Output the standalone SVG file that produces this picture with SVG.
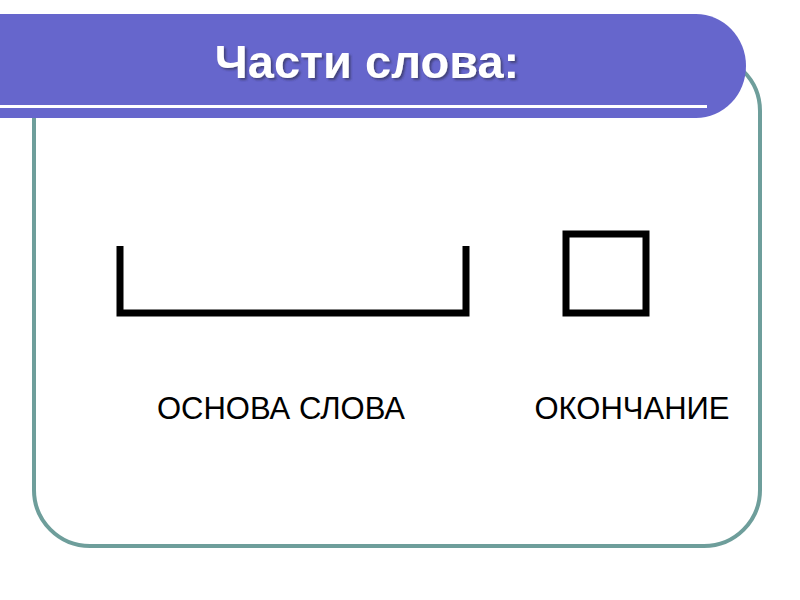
<svg xmlns="http://www.w3.org/2000/svg" width="800" height="600" viewBox="0 0 800 600">
  <defs>
    <filter id="tshadow" x="-10%" y="-20%" width="120%" height="150%">
      <feDropShadow dx="2" dy="2" stdDeviation="1" flood-color="#33335a" flood-opacity="0.7"/>
    </filter>
    <style>
      .frame { fill: #ffffff; stroke: #6e9e9b; stroke-width: 4; }
      .bar { fill: #6666cc; }
      .title { font-family: "Liberation Sans", Arial, sans-serif; font-weight: bold; font-size: 47px; fill: #ffffff; }
      .label { font-family: "Liberation Sans", Arial, sans-serif; font-size: 31px; fill: #000000; }
      .mark { fill: none; stroke: #000000; stroke-width: 7; }
    </style>
  </defs>
  <rect width="800" height="600" fill="#ffffff"/>
  <g id="frame">
    <rect class="frame" x="34" y="55" width="726" height="491" rx="56" ry="56"/>
  </g>
  <g id="title-bar">
    <path class="bar" d="M0,14 H696 A50,52 0 0 1 746,66 A50,52 0 0 1 696,118 H0 Z"/>
    <rect x="0" y="105" width="707" height="3" fill="#ffffff"/>
    <text class="title" x="367" y="78" text-anchor="middle" filter="url(#tshadow)">Части слова:</text>
  </g>
  <g id="osnova">
    <path class="mark" d="M120,246 V313 H466 V246"/>
    <text class="label" x="281" y="419" text-anchor="middle">ОСНОВА СЛОВА</text>
  </g>
  <g id="okonchanie">
    <rect class="mark" x="566" y="234" width="80" height="79"/>
    <text class="label" x="632" y="419" text-anchor="middle">ОКОНЧАНИЕ</text>
  </g>
</svg>
